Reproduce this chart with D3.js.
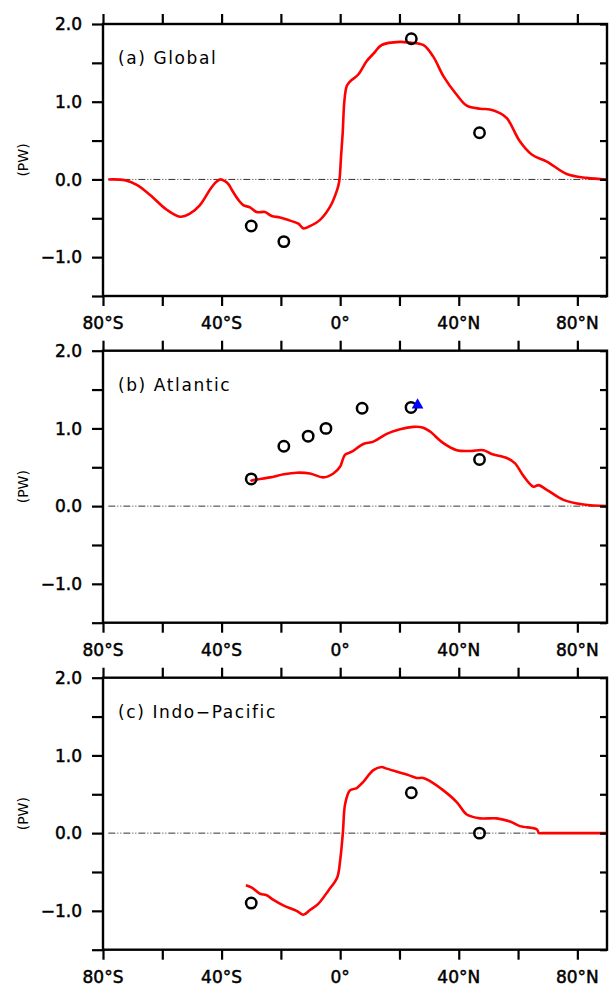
<!DOCTYPE html>
<html>
<head>
<meta charset="utf-8">
<script src="https://cdn.jsdelivr.net/npm/d3@7"></script>
<style>
  body { margin: 0; background: #fff; }
  svg { display: block; font-family: "DejaVu Sans", sans-serif; }
</style>
</head>
<body>
<div id="chart"></div>
<script>
// heat transport curves, [lat, PW]
const globalHT = [[-78.2,0],[-72.6,-0.01],[-68.6,-0.07],[-64.1,-0.2],[-58.5,-0.39],[-54,-0.48],[-50.7,-0.44],
    [-47.3,-0.33],[-43.9,-0.13],[-42.3,-0.05],[-40.5,0],[-39,-0.02],[-37.5,-0.07],[-36.6,-0.13],[-34.4,-0.26],
    [-32.7,-0.33],[-30.4,-0.36],
    [-28.2,-0.42],[-25.4,-0.42],[-23.1,-0.47],[-20.3,-0.49],[-16.9,-0.53],[-14.1,-0.57],[-12.4,-0.63],[-10.2,-0.60],
    [-6.8,-0.52],[-3.4,-0.35],[-1.0,-0.13],[-0.3,-0.02],[0.3,0.3],[0.85,0.6],[1.4,1.0],[2.2,1.2],[3.3,1.26],[6.1,1.35],
    [8.9,1.52],[11.5,1.63],[14,1.73],[20.2,1.77],[23.5,1.76],[28,1.73],[31.4,1.58],[34.8,1.33],[39.3,1.09],
    [42.7,0.95],[47.2,0.91],[50.5,0.90],[53.5,0.86],[56.2,0.79],[60.6,0.49],[64.6,0.32],[69.7,0.23],[76.4,0.07],
    [83.1,0.02],[90,0]];

const atlanticHT = [[-30.2,0.32],[-29.8,0.33],[-23.7,0.37],[-19,0.41],[-14.7,0.43],[-10.2,0.42],[-5.7,0.37],
    [-2.3,0.42],[0,0.51],[1.6,0.66],[3.9,0.70],[7.8,0.80],[11.2,0.83],[15.7,0.93],[20.2,0.99],[24.7,1.02],[28,1.01],
    [30.3,0.96],[34.8,0.81],[39.3,0.72],[44,0.71],[48.3,0.72],[51.1,0.67],[56.2,0.62],[59,0.55],[61.8,0.39],
    [65.2,0.25],[66.9,0.27],[69.7,0.21],[75.3,0.08],[82.1,0.02],[90,0]];

const indoPacHT = [[-31.8,-0.67],[-29.8,-0.70],[-27,-0.78],[-24.8,-0.80],[-22.5,-0.86],[-19.2,-0.93],[-14.7,-1.00],
    [-12.4,-1.05],[-10.2,-0.99],[-7.4,-0.91],[-4,-0.74],[-1,-0.57],[0,-0.35],[0.9,0],[1.7,0.38],[3.3,0.55],[5.6,0.58],
    [7.8,0.66],[11.2,0.81],[14,0.85],[15.7,0.83],[23.5,0.74],[25.8,0.71],[28,0.71],[30.3,0.67],[34.8,0.55],
    [39.3,0.40],[42.7,0.24],[47.2,0.19],[52.8,0.19],[57.3,0.15],[60.6,0.09],[66.3,0.05],[67.1,0],[68,0],[70,0],
    [80,0],[90,0]];

// observations (circles)
const globalObs = [[-30,-0.60],[-19,-0.80],[24,1.81],[47,0.60]];
const atlanticObs = [[-30,0.35],[-19,0.77],[-10.8,0.90],[-4.8,1.00],[7.4,1.26],[23.9,1.27],[47,0.60]];
const indoPacObs = [[-30,-0.90],[24,0.52],[47,0.0]];
// RAPID (triangle)
const rapidObs = [[26.1,1.30]];

const panelLabels = ["(a) Global", "(b) Atlantic", "(c) Indo\u2212Pacific"];
const yLabelTicks = [-1, 0, 1, 2];
const yMinorTicks = [-1.5, -1, -0.5, 0, 0.5, 1, 1.5, 2];
const xTicks = [-80, -60, -40, -20, 0, 20, 40, 60, 80];
const xLabelTicks = [-80, -40, 0, 40, 80];

const panels = [
    { label: panelLabels[0], line: globalHT, obs: globalObs, tri: [] },
    { label: panelLabels[1], line: atlanticHT, obs: atlanticObs, tri: rapidObs },
    { label: panelLabels[2], line: indoPacHT, obs: indoPacObs, tri: [] }
];

const width = 616, height = 988;
const left = 103, right = 607, ph = 272;
const tops = [24, 350.7, 677.7];

const svg = d3.select("#chart").append("svg")
    .attr("width", width)
    .attr("height", height);

const x = d3.scaleLinear().domain([-80, 90]).range([left, right]);

function latFmt(d) {
    if (d === 0) return "0\u00b0";
    return Math.abs(d) + "\u00b0" + (d < 0 ? "S" : "N");
}
function valFmt(d) {
    return (d < 0 ? "\u2212" : "") + Math.abs(d).toFixed(1);
}

panels.forEach((p, i) => {
    const top = tops[i];
    const y = d3.scaleLinear().domain([-1.5, 2]).range([top + ph, top]);
    const g = svg.append("g");

    // zero line
    g.append("line")
        .attr("x1", x(-78.2)).attr("x2", x(90))
        .attr("y1", y(0)).attr("y2", y(0))
        .attr("stroke", "#333")
        .attr("stroke-width", 1)
        .attr("stroke-dasharray", "7,2,1,2,1,2");

    // model curve
    const line = d3.line()
        .x(d => x(d[0]))
        .y(d => y(d[1]))
        .curve(d3.curveCatmullRom.alpha(0.5));
    g.append("path")
        .datum(p.line)
        .attr("d", line)
        .attr("fill", "none")
        .attr("stroke", "#ff0000")
        .attr("stroke-width", 2.6)
        .attr("stroke-linejoin", "round");

    // circles
    g.selectAll("circle.obs")
        .data(p.obs)
        .enter()
        .append("circle")
        .attr("class", "obs")
        .attr("cx", d => x(d[0]))
        .attr("cy", d => y(d[1]))
        .attr("r", 5.2)
        .attr("fill", "none")
        .attr("stroke", "#000")
        .attr("stroke-width", 2.5);

    g.selectAll("path.tri")
        .data(p.tri)
        .enter()
        .append("path")
        .attr("class", "tri")
        .attr("d", d3.symbol().type(d3.symbolTriangle).size(60))
        .attr("transform", d => `translate(${x(d[0])},${y(d[1])})`)
        .attr("fill", "#0000ff");

    // axes
    const axL = g.append("g")
        .attr("transform", `translate(${left},0)`)
        .call(d3.axisLeft(y).tickValues(yMinorTicks).tickSize(11).tickFormat(""));
    const axR = g.append("g")
        .attr("transform", `translate(${right},0)`)
        .call(d3.axisLeft(y).tickValues(yMinorTicks).tickSize(7).tickFormat(""));
    const axT = g.append("g")
        .attr("transform", `translate(0,${top})`)
        .call(d3.axisTop(x).tickValues(xTicks).tickSize(10).tickFormat(""));
    const axB = g.append("g")
        .attr("transform", `translate(0,${top + ph})`)
        .call(d3.axisBottom(x).tickValues(xTicks).tickSize(10).tickFormat(""));
    axR.selectAll(".tick line").attr("x2", -7);

    [axL, axR, axT, axB].forEach(a => {
        a.select(".domain").remove();
        a.selectAll(".tick line").attr("stroke", "#000").attr("stroke-width", 2.2);
    });

    // frame
    g.append("rect")
        .attr("x", left).attr("y", top)
        .attr("width", right - left).attr("height", ph)
        .attr("fill", "none")
        .attr("stroke", "#000")
        .attr("stroke-width", 2.4);

    // y tick labels
    g.selectAll("text.ylab")
        .data(yLabelTicks)
        .enter()
        .append("text")
        .attr("class", "ylab")
        .attr("x", 82)
        .attr("y", d => y(d))
        .attr("dy", "0.36em")
        .attr("text-anchor", "end")
        .style("font-size", "17px")
        .style("stroke", "#000")
        .style("stroke-width", "0.5px")
        .text(valFmt);

    // x tick labels
    g.selectAll("text.xlab")
        .data(xLabelTicks)
        .enter()
        .append("text")
        .attr("class", "xlab")
        .attr("x", d => x(d))
        .attr("y", top + ph + 33)
        .attr("text-anchor", "middle")
        .style("font-size", "17px")
        .style("stroke", "#000")
        .style("stroke-width", "0.5px")
        .text(latFmt);

    // units
    g.append("text")
        .attr("transform", `translate(28,${top + ph / 2}) rotate(-90)`)
        .attr("text-anchor", "middle")
        .style("font-size", "14px")
        .text("(PW)");

    // panel label
    g.append("text")
        .attr("x", 118)
        .attr("y", top + 40)
        .style("font-size", "17px")
        .style("letter-spacing", "1.6px")
        .text(p.label);
});
</script>
</body>
</html>
